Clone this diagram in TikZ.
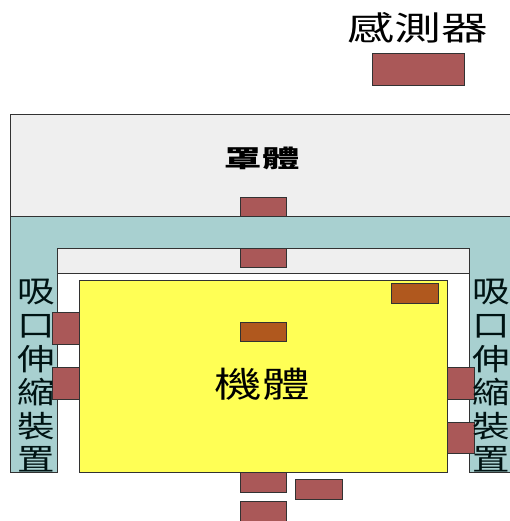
\documentclass[tikz,border=0pt]{standalone}
\usepackage{fontspec}
\newfontfamily\cjk{Noto Sans CJK TC}
\definecolor{sred}{RGB}{170,88,88}
\definecolor{sorange}{RGB}{176,88,30}
\definecolor{syellow}{RGB}{255,255,85}
\definecolor{steal}{RGB}{168,208,208}
\definecolor{sgrey}{RGB}{239,239,239}
\definecolor{sline}{RGB}{50,50,50}
\tikzset{
  box/.style={draw=sline, line width=0.9pt},
  redbox/.style={box, fill=sred},
  orangebox/.style={box, fill=sorange},
  label/.style={inner sep=0pt, transform shape, font=\cjk},
}
\begin{document}
\begin{tikzpicture}[x=1pt,y=-1pt]
\useasboundingbox (0,0) rectangle (510,521);
% housing
\path[box, fill=sgrey] (10,114) rectangle (514,216);
\path[box, fill=steal] (10,216) -- (514,216) -- (514,472) -- (469,472) -- (469,248)
  -- (57,248) -- (57,472) -- (10,472) -- cycle;
\path[box, fill=sgrey] (57,248) rectangle (469,273);
% body
\path[box, fill=syellow] (79,280) rectangle (447,472);
% red parts
\path[redbox] (372,53) rectangle (464,85);
\path[redbox] (240,197) rectangle (286,216);
\path[redbox] (240,248) rectangle (286,267);
\path[redbox] (52,312) rectangle (79,344);
\path[redbox] (52,367) rectangle (79,399);
\path[redbox] (447,367) rectangle (474,399);
\path[redbox] (447,422) rectangle (474,453);
\path[redbox] (240,472) rectangle (286,492);
\path[redbox] (295,479) rectangle (342,499);
\path[redbox] (240,501) rectangle (286,523);
% orange parts
\path[orangebox] (391,283) rectangle (438,303);
\path[orangebox] (240,322) rectangle (286,341);
% labels
\node[label, xscale=1.42, font=\cjk\fontsize{33}{36}\selectfont] (sensor) at (418,28) {感測器};
\node[label, xscale=1.55, font=\cjk\bfseries\fontsize{24}{28}\selectfont] (hood) at (262,158) {罩體};
\node[label, xscale=1.36, font=\cjk\fontsize{35}{38}\selectfont] (body) at (262,384) {機體};
\node[label, xscale=1.25, align=center, text=black!85!teal, font=\cjk\fontsize{30}{33.6}\selectfont] (lcol) at (36,376) {吸\\口\\伸\\縮\\裝\\置};
\node[label, xscale=1.25, align=center, text=black!85!teal, font=\cjk\fontsize{30}{33.6}\selectfont] (rcol) at (491,376) {吸\\口\\伸\\縮\\裝\\置};
\end{tikzpicture}
\end{document}
